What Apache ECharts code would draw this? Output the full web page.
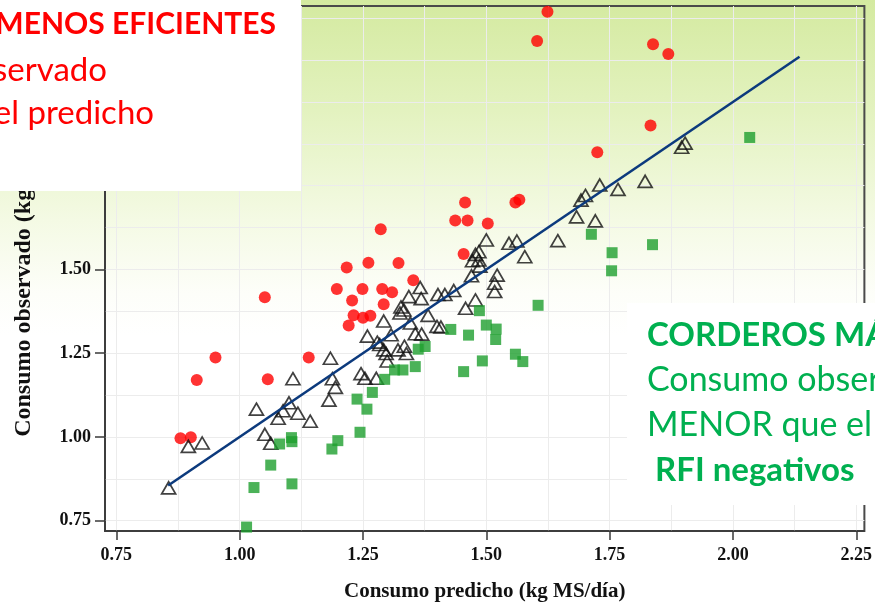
<!DOCTYPE html>
<html>
<head>
<meta charset="utf-8">
<script src="https://cdn.jsdelivr.net/npm/echarts@6/dist/echarts.min.js"></script>
<style>
  html, body { margin: 0; padding: 0; background: #ffffff; }
  #chart { width: 875px; height: 611px; }
</style>
</head>
<body>
<div id="chart"></div>
<script>
// Tick labels on both axes
const xTicks = [0.75, 1.00, 1.25, 1.50, 1.75, 2.00, 2.25];
const yTicks = [0.75, 1.00, 1.25, 1.50, 1.75, 2.00, 2.25];
// Fine grid every 0.125
const gridX = [0.75, 0.875, 1.00, 1.125, 1.25, 1.375, 1.50, 1.625, 1.75, 1.875, 2.00, 2.125, 2.25];
const gridY = [0.75, 0.875, 1.00, 1.125, 1.25, 1.375, 1.50, 1.625, 1.75, 1.875, 2.00, 2.125, 2.25];

// [consumo predicho, consumo observado] (kg MS/día)
const rfiPositivo = [
  [1.624, 2.269], [1.603, 2.182], [1.838, 2.172], [1.869, 2.143], [1.833, 1.930],
  [1.725, 1.850], [1.457, 1.700], [1.437, 1.646], [1.462, 1.646], [1.503, 1.637],
  [1.559, 1.700], [1.567, 1.708], [1.454, 1.546], [1.286, 1.620], [1.217, 1.506],
  [1.261, 1.520], [1.322, 1.519], [1.352, 1.468], [1.197, 1.442], [1.249, 1.442],
  [1.289, 1.442], [1.309, 1.432], [1.228, 1.407], [1.292, 1.396], [1.231, 1.363],
  [1.250, 1.356], [1.265, 1.362], [1.221, 1.333], [1.051, 1.417], [0.951, 1.237],
  [1.140, 1.237], [0.913, 1.170], [1.057, 1.172], [0.880, 0.996], [0.901, 0.999]
];
const rfiMedio = [
  [1.903, 1.877], [1.896, 1.865], [1.822, 1.763], [1.730, 1.752], [1.767, 1.739],
  [1.701, 1.721], [1.692, 1.707], [1.683, 1.657], [1.721, 1.645], [1.645, 1.586],
  [1.500, 1.588], [1.546, 1.578], [1.562, 1.585], [1.578, 1.538], [1.485, 1.553],
  [1.478, 1.545], [1.472, 1.526], [1.485, 1.528], [1.487, 1.510], [1.470, 1.481],
  [1.522, 1.483], [1.517, 1.459], [1.517, 1.434], [1.366, 1.446], [1.343, 1.419],
  [1.368, 1.413], [1.402, 1.425], [1.416, 1.425], [1.434, 1.437], [1.478, 1.409],
  [1.458, 1.384], [1.327, 1.388], [1.333, 1.379], [1.325, 1.370], [1.382, 1.363],
  [1.292, 1.346], [1.346, 1.340], [1.259, 1.301], [1.307, 1.305], [1.356, 1.308],
  [1.369, 1.307], [1.400, 1.330], [1.408, 1.328], [1.279, 1.283], [1.284, 1.276],
  [1.292, 1.260], [1.297, 1.249], [1.321, 1.260], [1.334, 1.271], [1.338, 1.249],
  [1.299, 1.227], [1.184, 1.235], [1.108, 1.174], [1.188, 1.174], [1.246, 1.189],
  [1.254, 1.175], [1.277, 1.175], [1.194, 1.148], [1.181, 1.110], [1.034, 1.083],
  [1.051, 1.008], [1.063, 0.981], [1.078, 1.056], [1.088, 1.078], [1.100, 1.102],
  [1.118, 1.071], [1.143, 1.047], [0.896, 0.972], [0.924, 0.982], [0.856, 0.848]
];
const rfiNegativo = [
  [2.034, 1.894], [1.713, 1.605], [1.837, 1.574], [1.755, 1.550], [1.754, 1.496],
  [1.605, 1.393], [1.486, 1.377], [1.428, 1.321], [1.464, 1.304], [1.500, 1.334],
  [1.520, 1.322], [1.519, 1.291], [1.376, 1.270], [1.362, 1.262], [1.492, 1.227],
  [1.559, 1.247], [1.574, 1.225], [1.454, 1.195], [1.331, 1.200], [1.356, 1.210],
  [1.314, 1.200], [1.294, 1.172], [1.269, 1.133], [1.238, 1.113], [1.258, 1.083],
  [1.244, 1.014], [1.199, 0.989], [1.187, 0.964], [1.105, 0.998], [1.106, 0.986],
  [1.081, 0.979], [1.063, 0.916], [1.029, 0.849], [1.106, 0.860], [1.014, 0.731]
];
// Regression line (observado = predicho)
const lineaAjuste = [[0.855, 0.855], [2.135, 2.135]];

const serif = 'Liberation Serif';
const axisColor = '#3a3a3a';

const chart = echarts.init(document.getElementById('chart'), null, { renderer: 'canvas' });

chart.setOption({
  animation: false,
  backgroundColor: {
    type: 'linear', x: 0, y: 0, x2: 0, y2: 1,
    colorStops: [
      { offset: 0, color: '#d4eaa0' },
      { offset: 0.18, color: '#e3f2bf' },
      { offset: 0.36, color: '#f4fae4' },
      { offset: 0.48, color: '#fdfef9' },
      { offset: 0.55, color: '#ffffff' },
      { offset: 1, color: '#ffffff' }
    ]
  },
  grid: {
    left: 105, right: 5, top: 6, bottom: 80,
    show: true, borderColor: '#4a4a4a', borderWidth: 2,
    backgroundColor: 'transparent'
  },
  xAxis: [
    {
      type: 'value', min: 0.727, max: 2.2665, position: 'bottom',
      axisLine: { show: true, onZero: false, lineStyle: { color: axisColor, width: 1.5 } },
      axisTick: { show: true, length: 9, customValues: xTicks, lineStyle: { color: axisColor, width: 1.5 } },
      axisLabel: {
        customValues: xTicks, margin: 15,
        formatter: v => v.toFixed(2),
        fontFamily: serif, fontWeight: 'bold', fontSize: 18, color: '#111'
      },
      splitLine: { show: false },
      name: 'Consumo predicho (kg MS/día)', nameLocation: 'middle', nameGap: 50,
      nameTextStyle: { fontFamily: serif, fontWeight: 'bold', fontSize: 21, color: '#111' }
    },
    {
      type: 'value', min: 0.727, max: 2.2665, position: 'top',
      axisLine: { show: false },
      axisTick: { show: false, customValues: gridX },
      axisLabel: { show: false },
      splitLine: { show: true, lineStyle: { color: '#ececec', width: 1 } }
    }
  ],
  yAxis: [
    {
      type: 'value', min: 0.7193, max: 2.2864, position: 'left',
      axisLine: { show: true, onZero: false, lineStyle: { color: axisColor, width: 1.5 } },
      axisTick: { show: true, length: 10, customValues: yTicks, lineStyle: { color: axisColor, width: 1.5 } },
      axisLabel: {
        customValues: yTicks, margin: 14,
        formatter: v => v.toFixed(2),
        fontFamily: serif, fontWeight: 'bold', fontSize: 18, color: '#111'
      },
      splitLine: { show: false },
      name: 'Consumo observado (kg MS/día)', nameLocation: 'middle', nameGap: 69, nameRotate: 90,
      nameTextStyle: { fontFamily: serif, fontWeight: 'bold', fontSize: 24, color: '#111' }
    },
    {
      type: 'value', min: 0.7193, max: 2.2864, position: 'right',
      axisLine: { show: false },
      axisTick: { show: false, customValues: gridY },
      axisLabel: { show: false },
      splitLine: { show: true, lineStyle: { color: '#ececec', width: 1 } }
    }
  ],
  series: [
    {
      name: 'RFI positivos', type: 'scatter', data: rfiPositivo,
      symbol: 'circle', symbolSize: 12,
      itemStyle: { color: '#ff0000' }
    },
    {
      name: 'RFI medios', type: 'scatter', data: rfiMedio,
      symbol: 'triangle', symbolSize: [14, 12],
      itemStyle: { color: 'rgba(255,255,255,0)', borderColor: '#111111', borderWidth: 1.7 }
    },
    {
      name: 'RFI negativos', type: 'scatter', data: rfiNegativo,
      symbol: 'rect', symbolSize: 11,
      itemStyle: { color: '#1e9f2e' }
    },
    {
      name: 'Ajuste', type: 'line', data: lineaAjuste,
      symbol: 'none', z: 5,
      lineStyle: { color: '#0c3a7d', width: 2.6 }
    }
  ],
  graphic: [
    { type: 'rect', z: 100, shape: { x: 0, y: 0, width: 301, height: 191 }, style: { fill: '#ffffff' } },
    { type: 'text', z: 101, x: 276, y: 24,
      style: { text: 'CORDEROS MENOS EFICIENTES', font: 'bold 30px Lato', fill: '#ff0000', align: 'right', verticalAlign: 'middle' } },
    { type: 'text', z: 101, x: 107, y: 70,
      style: { text: 'Consumo observado', font: '33px Lato', fill: '#ff0000', align: 'right', verticalAlign: 'middle' } },
    { type: 'text', z: 101, x: 154, y: 113,
      style: { text: 'MAYOR que el predicho', font: '33px Lato', fill: '#ff0000', align: 'right', verticalAlign: 'middle' } },

    { type: 'rect', z: 100, shape: { x: 627, y: 303, width: 248, height: 202 }, style: { fill: '#ffffff' } },
    { type: 'text', z: 101, x: 647, y: 335,
      style: { text: 'CORDEROS MÁS EFICIENTES', font: 'bold 33px Lato', fill: '#00b050', align: 'left', verticalAlign: 'middle' } },
    { type: 'text', z: 101, x: 647, y: 380,
      style: { text: 'Consumo observado', font: '34px Lato', fill: '#00b050', align: 'left', verticalAlign: 'middle' } },
    { type: 'text', z: 101, x: 647, y: 425,
      style: { text: 'MENOR que el predicho', font: '34px Lato', fill: '#00b050', align: 'left', verticalAlign: 'middle' } },
    { type: 'text', z: 101, x: 655, y: 470,
      style: { text: 'RFI negativos', font: 'bold 33px Lato', fill: '#00b050', align: 'left', verticalAlign: 'middle' } }
  ]
});
</script>
</body>
</html>
